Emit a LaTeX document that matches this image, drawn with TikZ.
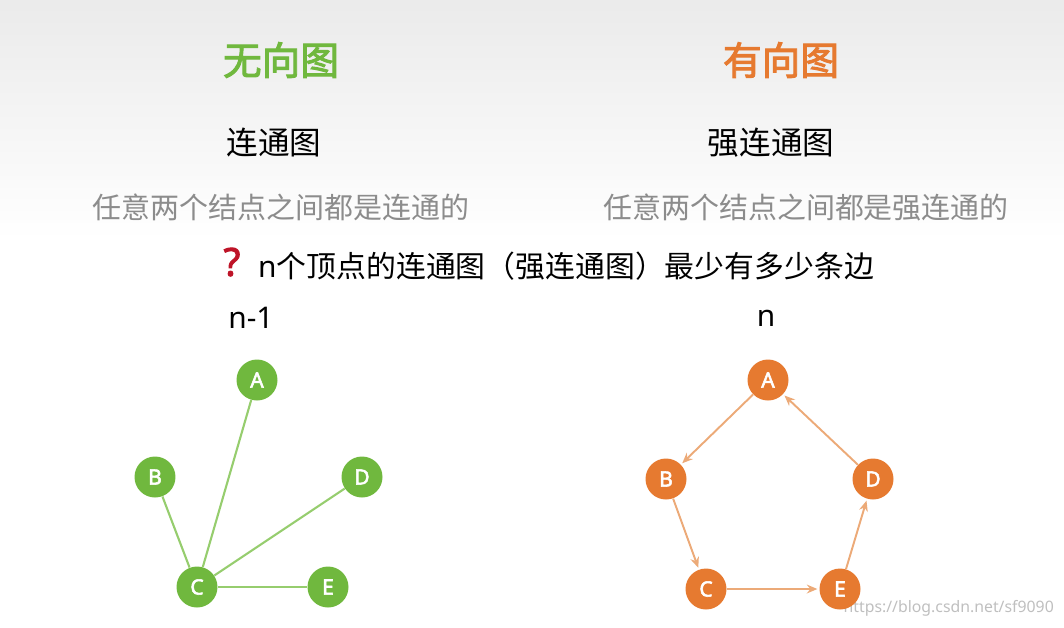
\documentclass[tikz,border=0pt]{standalone}
\usepackage{fontspec}
\setmainfont{Noto Sans}[AutoFakeBold=2.5]
\newfontfamily\cjk{Noto Sans CJK SC}[AutoFakeBold=2.5]
\usetikzlibrary{arrows.meta}
\definecolor{gr}{RGB}{112,184,62}
\definecolor{grl}{RGB}{150,205,110}
\definecolor{orr}{RGB}{230,122,48}
\definecolor{orl}{RGB}{236,170,120}
\definecolor{gtx}{RGB}{140,140,140}
\definecolor{qred}{RGB}{190,20,40}
\tikzset{
 gn/.style={circle,fill=gr,minimum size=0.82cm,inner sep=0pt,text=white,font=\bfseries\large},
 on/.style={circle,fill=orr,minimum size=0.82cm,inner sep=0pt,text=white,font=\bfseries\large},
 ge/.style={grl,line width=1.2pt},
 oe/.style={orl,line width=1.1pt,-{Stealth[length=6pt,width=5pt]},shorten >=1pt}
}
\begin{document}
\begin{tikzpicture}[x=0.02cm,y=-0.02cm]
\useasboundingbox (0,0) rectangle (1064,627);
\shade[top color=black!8,bottom color=white] (0,0) rectangle (1064,240);
\node (t1) at (281,60) {\cjk\fontsize{22}{26}\selectfont\bfseries\color{gr}无向图};
\node (t2) at (781,60) {\cjk\fontsize{22}{26}\selectfont\bfseries\color{orr}有向图};
\node (s1) at (274,143) {\cjk\fontsize{18}{22}\selectfont 连通图};
\node (s2) at (771,143) {\cjk\fontsize{18}{22}\selectfont 强连通图};
\node (g1) at (281,207) {\cjk\fontsize{16.5}{19}\selectfont\color{gtx}任意两个结点之间都是连通的};
\node (g2) at (806,207) {\cjk\fontsize{16.5}{19}\selectfont\color{gtx}任意两个结点之间都是强连通的};
\node (qm) at (232,262) {\fontsize{22}{26}\selectfont\bfseries\color{qred}?};
\node[anchor=west] (q) at (252,266) {\fontsize{17}{20}\selectfont n\cjk 个顶点的连通图（强连通图）最少有多少条边};
\node (n1) at (251,318) {\fontsize{17}{20}\selectfont n-1};
\node (n2) at (766,318) {\fontsize{17}{20}\selectfont n};
\node[anchor=east,text=black!25,font=\small] (wm) at (1060,608) {https://blog.csdn.net/sf9090};
\node[gn] (A) at (257,380) {A};
\node[gn] (B) at (155,477) {B};
\node[gn] (D) at (362,477) {D};
\node[gn] (C) at (197,587) {C};
\node[gn] (E) at (328,587) {E};
\draw[ge] (A)--(C); \draw[ge] (B)--(C); \draw[ge] (D)--(C); \draw[ge] (E)--(C);
\node[on] (a) at (768,380) {A};
\node[on] (b) at (666,479) {B};
\node[on] (d) at (873,479) {D};
\node[on] (c) at (706,589) {C};
\node[on] (e) at (840,589) {E};
\draw[oe] (a)--(b); \draw[oe] (b)--(c); \draw[oe] (c)--(e); \draw[oe] (e)--(d); \draw[oe] (d)--(a);
\end{tikzpicture}
\end{document}
